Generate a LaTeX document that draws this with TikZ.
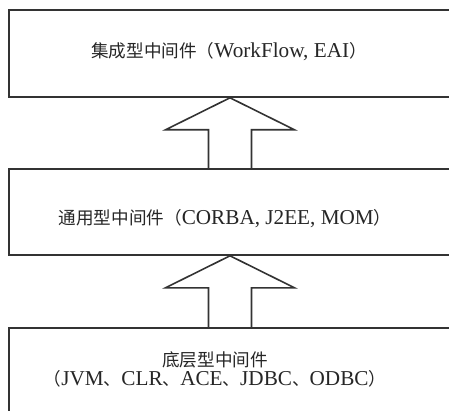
\documentclass[tikz,border=0pt]{standalone}
\usepackage{fontspec}
\setmainfont{Liberation Serif}
\newfontfamily\cjk[Scale=0.83]{Noto Sans CJK SC}
\usetikzlibrary{calc}
\tikzset{
    layer/.style={draw=black!80, line width=1.6pt, minimum width=442pt, inner sep=0pt},
    label/.style={text=black!85, font=\fontsize{21.2}{19}\selectfont, align=center, inner sep=0pt},
    hollow/.style={draw=black!80, line width=1.6pt, line join=miter}
}
\begin{document}
\begin{tikzpicture}[x=1pt, y=-1pt]
    \useasboundingbox[fill=white] (0,0) rectangle (449,411);

    % the three layers
    \node[layer, minimum height=87pt] (top) at (230,53.5) {};
    \node[layer, minimum height=86pt] (mid) at (230,212) {};
    \node[layer, minimum height=112pt] (bot) at (230,384) {};

    % layer texts
    \node[label] (toptxt) at (229,52) {{\cjk 集成型中间件（}WorkFlow, EAI{\cjk ）}};
    \node[label] (midtxt) at (225,219) {{\cjk 通用型中间件（}CORBA, J2EE, MOM{\cjk ）}};
    \node[label] (bottxt) at (215,369) {{\cjk 底层型中间件}\\{\cjk （}JVM{\cjk 、}CLR{\cjk 、}ACE{\cjk 、}JDBC{\cjk 、}ODBC{\cjk ）}};

    % hollow arrows between layers
    \foreach \lo/\hi in {mid/top, bot/mid} {
        \draw[hollow] ($(\lo.north)+(-21.5,0)$) -- ($(\hi.south)+(-21.5,32)$)
            -- ($(\hi.south)+(-64.5,32)$) -- (\hi.south) -- ($(\hi.south)+(64.5,32)$)
            -- ($(\hi.south)+(21.5,32)$) -- ($(\lo.north)+(21.5,0)$);
    }
\end{tikzpicture}
\end{document}
